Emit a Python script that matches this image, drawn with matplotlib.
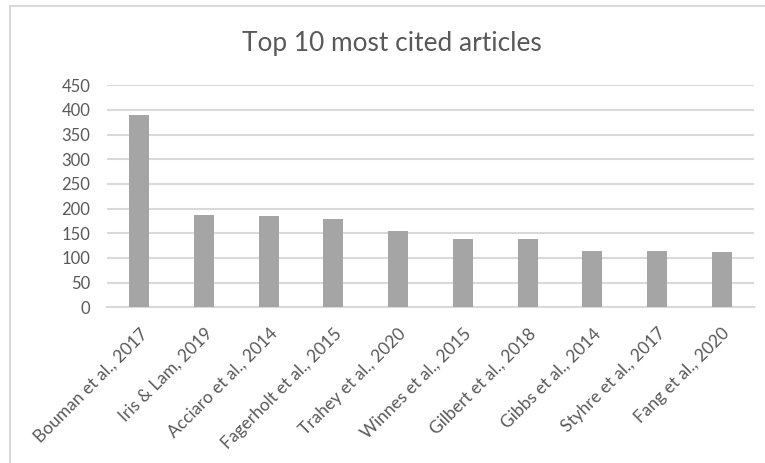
import matplotlib
matplotlib.use("Agg")
import matplotlib.pyplot as plt
from matplotlib.patches import Rectangle

articles = ["Bouman et al., 2017", "Iris & Lam, 2019", "Acciaro et al., 2014",
            "Fagerholt et al., 2015", "Trahey et al., 2020", "Winnes et al., 2015",
            "Gilbert et al., 2018", "Gibbs et al., 2014", "Styhre et al., 2017",
            "Fang et al., 2020"]
citations = [389, 187, 186, 180, 155, 138, 138, 114, 114, 112]
yticks = [0, 50, 100, 150, 200, 250, 300, 350, 400, 450]
title = "Top 10 most cited articles"

plt.rcParams['font.family'] = ['Lato', 'DejaVu Sans']
text_color = "#595959"
grid_color = "#d9d9d9"

fig = plt.figure(figsize=(7.65, 4.63), dpi=100)
ax = fig.add_axes([107/765, 1-307.3/463, (754-107)/765, (307.3-85.3)/463])

x = list(range(len(articles)))
ax.bar(x, citations, width=0.31, color="#a5a5a5", zorder=3)
ax.set_xlim(-0.5, len(articles) - 0.5)
ax.set_ylim(0, 450)
ax.set_yticks(yticks)
ax.set_yticklabels([str(v) for v in yticks], fontsize=12, color=text_color)
ax.yaxis.grid(True, color=grid_color, linewidth=1.5, zorder=0)
ax.set_axisbelow(True)
for s in ["top", "right", "left"]:
    ax.spines[s].set_visible(False)
ax.spines["bottom"].set_color(grid_color)
ax.spines["bottom"].set_linewidth(1.5)
ax.tick_params(axis="both", length=0)
ax.tick_params(axis="y", pad=12)
ax.tick_params(axis="x", pad=13)
ax.set_xticks(x)
ax.set_xticklabels(articles, rotation=45, ha="right", va="top",
                   rotation_mode="anchor", fontsize=12.5, color=text_color)

fig.text(392/765, 1-50.7/463, title, ha="center", va="baseline",
         fontsize=18.9, color=text_color)

fig.patches.append(Rectangle((10/765, -0.1), 1.2, (463-6)/463 + 0.1,
                             transform=fig.transFigure, fill=False,
                             edgecolor=grid_color, linewidth=1.5))

fig.savefig("out.png", dpi=100, facecolor="white")
